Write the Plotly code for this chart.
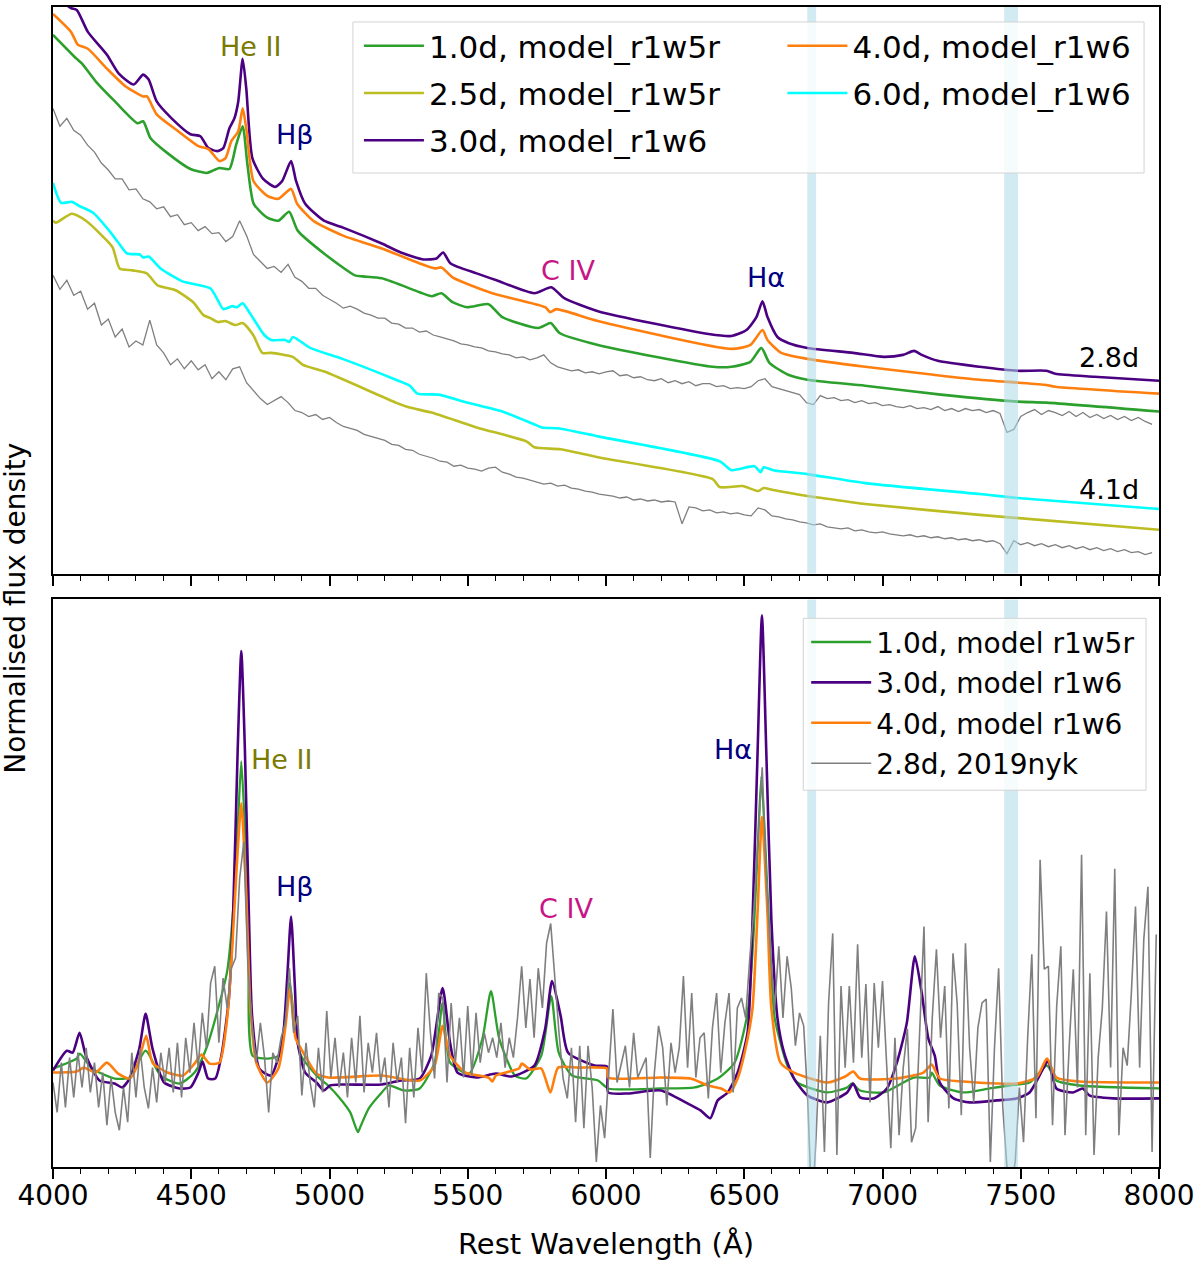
import numpy as np
import plotly.graph_objects as go

# ---------------- top panel: models (wavelength in A, normalised flux) -------------
top_r1w6_3d_wave = [4000, 4025, 4065, 4086, 4126, 4195, 4238, 4292, 4326, 4346, 4375, 4429, 4497, 4533, 4562,
                    4595, 4616, 4638, 4656, 4670, 4686, 4699, 4721, 4760, 4804, 4829, 4861, 4879, 4912, 4980,
                    5049, 5189, 5258, 5341, 5387, 5411, 5438, 5532, 5604, 5741, 5802, 5849, 5971, 6371, 6454,
                    6508, 6544, 6566, 6584, 6620, 6659, 6728, 6894, 7005, 7074, 7114, 7142, 7200, 7351, 7488,
                    7593, 7625, 7766, 8000]
top_r1w6_3d_flux = [6.10, 5.78, 5.69, 5.67, 5.45, 5.22, 5.03, 4.92, 5.02, 4.97, 4.75, 4.58, 4.42, 4.40, 4.28,
                    4.25, 4.28, 4.48, 4.58, 4.75, 5.18, 4.88, 4.18, 3.97, 3.89, 3.95, 4.15, 3.95, 3.72, 3.55,
                    3.48, 3.32, 3.23, 3.16, 3.17, 3.23, 3.12, 3.02, 2.95, 2.82, 2.88, 2.77, 2.64, 2.41, 2.39,
                    2.45, 2.58, 2.74, 2.58, 2.38, 2.32, 2.27, 2.22, 2.18, 2.20, 2.24, 2.20, 2.14, 2.08, 2.04,
                    2.04, 2.01, 1.98, 1.94]

top_r1w6_4d_wave = [4000, 4065, 4090, 4126, 4195, 4263, 4326, 4340, 4375, 4443, 4526, 4562, 4602, 4624, 4645,
                    4670, 4686, 4699, 4725, 4775, 4815, 4861, 4883, 4941, 5049, 5189, 5326, 5380, 5405, 5445,
                    5589, 5780, 5798, 5820, 5971, 6454, 6522, 6566, 6584, 6634, 6728, 6937, 7185, 7351, 7585,
                    7625, 8000]
top_r1w6_4d_flux = [5.63, 5.45, 5.32, 5.28, 5.08, 4.90, 4.80, 4.80, 4.62, 4.47, 4.30, 4.27, 4.15, 4.18, 4.35,
                    4.45, 4.68, 4.48, 3.95, 3.80, 3.77, 3.87, 3.72, 3.55, 3.40, 3.27, 3.12, 3.07, 3.08, 2.98,
                    2.82, 2.68, 2.63, 2.66, 2.54, 2.26, 2.30, 2.45, 2.35, 2.22, 2.16, 2.08, 2.00, 1.95, 1.90,
                    1.88, 1.81]

top_r1w5r_1d_wave = [4000, 4085, 4105, 4155, 4224, 4306, 4326, 4353, 4414, 4497, 4555, 4575, 4602, 4638, 4663,
                     4686, 4703, 4726, 4775, 4815, 4854, 4885, 4980, 5092, 5120, 5189, 5326, 5370, 5405, 5445,
                     5498, 5575, 5625, 5755, 5800, 5832, 5971, 6386, 6454, 6522, 6562, 6591, 6659, 6728, 6937,
                     7211, 7488, 7593, 8000]
top_r1w5r_1d_flux = [5.42, 5.18, 5.13, 4.95, 4.75, 4.53, 4.55, 4.38, 4.23, 4.07, 4.03, 4.05, 4.08, 4.07, 4.32,
                     4.50, 4.12, 3.72, 3.58, 3.55, 3.64, 3.45, 3.22, 3.00, 2.99, 2.97, 2.83, 2.79, 2.82, 2.73,
                     2.68, 2.71, 2.58, 2.47, 2.52, 2.42, 2.30, 2.08, 2.08, 2.13, 2.27, 2.12, 2.00, 1.95, 1.89,
                     1.80, 1.73, 1.72, 1.63]

top_r1w6_6d_wave = [4000, 4029, 4068, 4094, 4145, 4209, 4236, 4268, 4314, 4326, 4346, 4389, 4468, 4569, 4596,
                    4616, 4648, 4666, 4686, 4712, 4764, 4789, 4840, 4854, 4868, 4930, 5047, 5240, 5290, 5318,
                    5395, 5498, 5625, 5741, 5768, 5831, 5971, 6411, 6454, 6537, 6559, 6570, 6605, 6728, 6937,
                    7351, 7488, 8000]
top_r1w6_6d_flux = [3.93, 3.73, 3.74, 3.70, 3.63, 3.43, 3.33, 3.22, 3.21, 3.18, 3.19, 3.07, 2.94, 2.87, 2.75,
                    2.66, 2.69, 2.68, 2.72, 2.62, 2.40, 2.35, 2.35, 2.33, 2.38, 2.27, 2.16, 1.95, 1.89, 1.81,
                    1.80, 1.72, 1.63, 1.50, 1.47, 1.46, 1.38, 1.13, 1.04, 1.08, 1.02, 1.07, 1.04, 1.00, 0.91,
                    0.80, 0.76, 0.65]

top_r1w5r_25d_wave = [4000, 4011, 4068, 4119, 4184, 4216, 4241, 4288, 4339, 4378, 4443, 4507, 4544, 4569, 4596,
                      4623, 4659, 4686, 4724, 4757, 4789, 4867, 4904, 4984, 5240, 5290, 5369, 5532, 5712, 5741,
                      5836, 5971, 6386, 6411, 6494, 6551, 6570, 6605, 6728, 6883, 6937, 7351, 8000]
top_r1w5r_25d_flux = [3.55, 3.53, 3.62, 3.55, 3.38, 3.28, 3.07, 3.05, 3.02, 2.90, 2.85, 2.73, 2.60, 2.57, 2.53,
                      2.54, 2.50, 2.52, 2.40, 2.22, 2.22, 2.18, 2.10, 2.03, 1.72, 1.67, 1.62, 1.47, 1.33, 1.27,
                      1.25, 1.17, 0.95, 0.87, 0.88, 0.83, 0.86, 0.84, 0.78, 0.72, 0.70, 0.59, 0.44]

# ---------------- top panel: observed spectra, 25 A sampling -------------
top_obs_wave = np.arange(4000, 8000, 25)
top_obs_28d = [
    4.68, 4.50, 4.58, 4.46, 4.41, 4.31, 4.24, 4.13, 4.06, 3.97,
    3.97, 3.86, 3.87, 3.77, 3.74, 3.67, 3.69, 3.59, 3.61, 3.51,
    3.53, 3.45, 3.49, 3.42, 3.43, 3.34, 3.39, 3.55, 3.40, 3.21,
    3.14, 3.07, 3.09, 3.03, 3.11, 2.98, 2.94, 2.87, 2.87, 2.80,
    2.76, 2.72, 2.67, 2.69, 2.66, 2.62, 2.60, 2.57, 2.57, 2.52,
    2.51, 2.47, 2.47, 2.43, 2.44, 2.40, 2.38, 2.36, 2.34, 2.31,
    2.30, 2.28, 2.27, 2.24, 2.23, 2.21, 2.20, 2.17, 2.18, 2.15,
    2.17, 2.20, 2.12, 2.08, 2.06, 2.04, 2.05, 2.02, 2.03, 2.01,
    2.03, 2.04, 1.99, 2.00, 1.97, 1.98, 1.95, 1.94, 1.96, 1.92,
    1.94, 1.91, 1.93, 1.89, 1.91, 1.91, 1.88, 1.89, 1.86, 1.87,
    1.86, 1.88, 1.94, 1.96, 1.88, 1.86, 1.84, 1.82, 1.80, 1.72,
    1.70, 1.79, 1.76, 1.77, 1.74, 1.75, 1.72, 1.74, 1.71, 1.72,
    1.69, 1.70, 1.68, 1.67, 1.69, 1.66, 1.67, 1.65, 1.68, 1.64,
    1.66, 1.63, 1.66, 1.64, 1.65, 1.62, 1.64, 1.61, 1.42, 1.45,
    1.58, 1.62, 1.65, 1.60, 1.64, 1.62, 1.59, 1.63, 1.58, 1.62,
    1.57, 1.60, 1.56, 1.59, 1.55, 1.58, 1.54, 1.57, 1.53, 1.50,
]
top_obs_41d = [
    3.00, 2.86, 2.95, 2.80, 2.84, 2.66, 2.72, 2.50, 2.56, 2.38,
    2.46, 2.28, 2.34, 2.30, 2.55, 2.30, 2.22, 2.10, 2.16, 2.06,
    2.14, 2.05, 2.10, 1.96, 2.03, 1.95, 2.06, 2.08, 1.92, 1.84,
    1.76, 1.70, 1.74, 1.78, 1.72, 1.64, 1.62, 1.58, 1.60, 1.55,
    1.57, 1.52, 1.48, 1.46, 1.44, 1.40, 1.38, 1.36, 1.34, 1.30,
    1.29, 1.25, 1.24, 1.20, 1.18, 1.16, 1.13, 1.12, 1.08, 1.09,
    1.06, 1.05, 1.03, 1.06, 1.07, 1.02, 1.00, 0.97, 0.96, 0.94,
    0.92, 0.90, 0.91, 0.88, 0.89, 0.86, 0.85, 0.83, 0.82, 0.80,
    0.79, 0.78, 0.76, 0.77, 0.74, 0.75, 0.73, 0.74, 0.72, 0.73,
    0.72, 0.50, 0.67, 0.66, 0.63, 0.64, 0.61, 0.62, 0.60, 0.61,
    0.59, 0.58, 0.66, 0.64, 0.58, 0.57, 0.55, 0.54, 0.52, 0.51,
    0.49, 0.50, 0.47, 0.46, 0.45, 0.46, 0.43, 0.44, 0.42, 0.41,
    0.42, 0.40, 0.39, 0.38, 0.39, 0.37, 0.38, 0.36, 0.37, 0.35,
    0.36, 0.34, 0.35, 0.33, 0.34, 0.32, 0.33, 0.30, 0.20, 0.33,
    0.29, 0.31, 0.28, 0.30, 0.27, 0.29, 0.26, 0.28, 0.25, 0.27,
    0.24, 0.26, 0.23, 0.25, 0.22, 0.24, 0.21, 0.22, 0.19, 0.21,
]

# ---------------- bottom panel: continuum-subtracted -------------
bot_r1w5r_1d_wave = [4000, 4085, 4097, 4141, 4223, 4277, 4335, 4389, 4458, 4512, 4554, 4609, 4630, 4652, 4668,
                     4681, 4694, 4708, 4722, 4775, 4815, 4840, 4857, 4875, 4897, 4953, 4995, 5035, 5075, 5092,
                     5103, 5114, 5142, 5189, 5214, 5270, 5326, 5380, 5409, 5436, 5505, 5553, 5584, 5614, 5671,
                     5711, 5766, 5802, 5829, 5877, 5971, 6008, 6198, 6321, 6404, 6465, 6512, 6535, 6550, 6562,
                     6575, 6590, 6610, 6656, 6692, 6800, 6872, 6890, 6919, 7004, 7112, 7171, 7178, 7207, 7293,
                     7387, 7459, 7532, 7595, 7629, 7712, 8000]
bot_r1w5r_1d_flux = [0.99, 1.09, 1.14, 0.99, 0.89, 0.90, 1.17, 0.92, 0.84, 0.95, 1.19, 1.72, 1.97, 2.60, 3.40,
                     4.08, 3.40, 2.40, 1.12, 1.09, 1.12, 1.50, 1.85, 1.40, 1.12, 0.92, 0.82, 0.70, 0.55, 0.42,
                     0.35, 0.42, 0.59, 0.75, 0.82, 0.77, 0.79, 1.05, 1.65, 1.05, 0.94, 1.29, 1.77, 1.29, 0.92,
                     0.89, 1.12, 1.72, 1.15, 0.92, 0.87, 0.79, 0.79, 0.80, 0.89, 1.05, 1.55, 2.40, 3.30, 3.93,
                     3.30, 2.40, 1.50, 1.02, 0.85, 0.75, 0.80, 0.84, 0.77, 0.75, 0.90, 0.90, 0.95, 0.82, 0.75,
                     0.79, 0.82, 0.85, 1.02, 0.87, 0.82, 0.79]

bot_r1w6_3d_wave = [4000, 4050, 4071, 4096, 4119, 4168, 4223, 4250, 4277, 4312, 4335, 4360, 4402, 4458, 4497,
                    4526, 4541, 4561, 4587, 4609, 4636, 4652, 4668, 4681, 4694, 4708, 4720, 4746, 4788, 4829,
                    4847, 4861, 4875, 4885, 4912, 4953, 4980, 5002, 5049, 5189, 5258, 5326, 5368, 5409, 5436,
                    5463, 5532, 5602, 5658, 5741, 5780, 5805, 5836, 5863, 5959, 6004, 6008, 6079, 6198, 6295,
                    6342, 6377, 6404, 6440, 6476, 6512, 6530, 6548, 6564, 6580, 6598, 6620, 6644, 6680, 6728,
                    6800, 6872, 6894, 6919, 6968, 7016, 7052, 7088, 7117, 7142, 7166, 7189, 7207, 7257, 7315,
                    7413, 7485, 7532, 7581, 7599, 7629, 7689, 7724, 7748, 7833, 8000]
bot_r1w6_3d_flux = [0.97, 1.17, 1.15, 1.35, 1.12, 0.87, 0.84, 0.80, 0.89, 1.19, 1.54, 1.19, 0.85, 0.79, 0.80,
                    0.95, 1.06, 0.89, 0.89, 1.12, 1.69, 2.60, 4.20, 5.19, 4.20, 2.60, 1.52, 0.99, 0.92, 1.25,
                    1.90, 2.52, 1.80, 1.25, 0.95, 0.85, 0.77, 0.82, 0.83, 0.83, 0.87, 0.89, 1.12, 1.80, 1.25,
                    0.95, 0.90, 0.94, 0.91, 1.02, 1.39, 1.87, 1.52, 1.15, 1.02, 1.01, 0.75, 0.74, 0.77, 0.64,
                    0.57, 0.49, 0.67, 0.75, 0.95, 1.35, 2.49, 4.15, 5.55, 4.15, 2.49, 1.50, 1.15, 0.89, 0.72,
                    0.65, 0.75, 0.84, 0.70, 0.69, 0.79, 1.05, 1.45, 2.12, 1.75, 1.29, 1.12, 0.85, 0.69, 0.65,
                    0.67, 0.69, 0.75, 0.99, 1.07, 0.79, 0.75, 0.79, 0.72, 0.69, 0.69]

bot_r1w6_4d_wave = [4000, 4085, 4112, 4154, 4195, 4236, 4277, 4305, 4337, 4360, 4414, 4470, 4512, 4537, 4566,
                    4602, 4630, 4648, 4664, 4681, 4698, 4714, 4735, 4775, 4815, 4840, 4857, 4877, 4897, 4953,
                    4995, 5189, 5326, 5380, 5409, 5436, 5492, 5575, 5589, 5602, 5685, 5696, 5726, 5766, 5799,
                    5827, 5899, 6004, 6008, 6198, 6306, 6368, 6416, 6447, 6476, 6512, 6530, 6548, 6564, 6584,
                    6598, 6631, 6680, 6800, 6865, 6894, 6919, 7052, 7148, 7178, 7207, 7293, 7413, 7485, 7557,
                    7595, 7629, 7712, 8000]
bot_r1w6_4d_flux = [0.95, 0.96, 1.00, 0.95, 1.05, 0.94, 0.89, 1.02, 1.32, 1.05, 0.95, 0.92, 1.04, 1.13, 1.04,
                    1.05, 1.50, 2.20, 3.00, 3.66, 2.80, 1.60, 1.05, 0.85, 0.99, 1.40, 1.79, 1.30, 1.19, 0.94,
                    0.90, 0.92, 0.87, 1.02, 1.42, 1.12, 0.95, 0.90, 0.86, 0.92, 0.99, 1.04, 0.98, 0.99, 0.75,
                    1.00, 1.00, 0.99, 0.90, 0.90, 0.89, 0.82, 0.79, 0.75, 0.89, 1.29, 1.60, 2.55, 3.52, 2.55,
                    1.60, 1.05, 0.95, 0.85, 0.91, 0.96, 0.89, 0.89, 0.95, 1.03, 0.89, 0.86, 0.84, 0.84, 0.90,
                    1.09, 0.90, 0.86, 0.85]

# 2019nyk at 2.8d, 15 A sampling
bot_obs_wave = np.arange(4000, 8000, 15)
bot_obs_28d = [
    0.85, 0.55, 1.05, 0.60, 1.10, 0.70, 1.15, 0.80, 1.20, 0.75,
    1.05, 0.60, 0.95, 0.42, 0.90, 0.55, 0.37, 0.80, 0.45, 1.15,
    0.70, 1.19, 0.80, 0.59, 1.00, 0.65, 1.15, 0.85, 1.20, 0.75,
    1.25, 0.70, 1.30, 0.95, 1.45, 1.00, 1.55, 1.20, 1.85, 2.02,
    1.25, 1.90, 1.60, 2.00, 2.10, 2.90, 3.27, 2.00, 1.40, 1.05,
    1.45, 1.10, 0.55, 1.15, 1.05, 1.30, 1.45, 2.00, 1.35, 1.52,
    0.72, 1.25, 0.85, 0.60, 1.20, 0.75, 1.57, 0.90, 1.30, 0.80,
    1.15, 0.70, 1.30, 0.85, 1.52, 0.75, 1.25, 0.95, 1.35, 0.85,
    1.10, 0.60, 1.25, 0.85, 1.10, 0.44, 1.20, 0.70, 1.40, 0.95,
    1.95, 1.35, 0.89, 1.75, 1.70, 0.85, 1.65, 1.05, 1.50, 0.90,
    1.62, 0.92, 1.55, 1.05, 1.35, 1.15, 1.30, 1.10, 1.45, 1.00,
    1.30, 1.10, 1.50, 2.02, 1.40, 1.89, 1.30, 2.00, 1.60, 2.25,
    2.45, 1.85, 1.35, 0.89, 0.69, 1.20, 0.45, 1.22, 0.39, 1.22,
    0.80, 0.05, 0.62, 0.29, 1.00, 1.59, 0.85, 1.05, 1.22, 0.80,
    1.35, 0.90, 1.00, 1.10, 0.09, 0.95, 1.42, 1.20, 0.62, 1.25,
    0.95, 1.20, 1.92, 1.00, 1.75, 0.90, 1.30, 1.35, 0.69, 1.40,
    1.75, 0.95, 1.45, 1.75, 0.75, 1.60, 1.70, 1.50, 2.10, 2.60,
    3.30, 4.02, 2.90, 2.15, 1.60, 2.22, 1.50, 2.12, 1.80, 1.22,
    1.55, 1.42, 0.65, -0.50, 0.32, 1.32, 0.15, 1.65, 2.35, 0.12,
    1.82, 1.00, 1.82, 1.05, 2.24, 1.10, 1.84, 0.65, 1.85, 1.20,
    1.87, 1.00, 0.19, 1.30, 0.32, 1.00, 1.39, 0.25, 0.39, 1.40,
    2.42, 0.45, 1.50, 2.19, 1.30, 1.82, 0.59, 2.15, 1.65, 0.52,
    2.25, 1.20, 0.65, 1.40, 1.65, 1.69, 0.05, 1.20, 2.00, 0.60,
    0.00, -0.20, 0.05, 0.80, 0.25, 1.30, 2.14, 0.49, 3.09, 1.99,
    2.02, 0.42, 1.62, 2.22, 0.32, 1.20, 1.99, 0.80, 3.14, 0.32,
    1.95, 0.12, 1.10, 1.60, 2.57, 1.00, 3.00, 0.32, 1.20, 1.02,
    1.75, 2.62, 1.00, 2.29, 2.82, 0.15, 2.34,
]

# telluric bands (A)
bands = [(6728, 6760), (7440, 7490)]

GREEN = "#2ca02c"
OLIVE = "#bcbd22"
INDIGO = "#4b0082"
ORANGE = "#ff7f0e"
CYAN = "#00ffff"
GREY = "#7f7f7f"
FONT = "DejaVu Sans"

fig = go.Figure()

# top panel
for w, f in [(top_obs_wave, top_obs_28d), (top_obs_wave, top_obs_41d)]:
    fig.add_trace(go.Scatter(x=w, y=f, mode="lines", line=dict(color=GREY, width=1.3),
                             showlegend=False, xaxis="x2", yaxis="y2", hoverinfo="skip"))

# two legend columns in the top panel, like matplotlib ncol=2
top_models = [
    (top_r1w5r_1d_wave, top_r1w5r_1d_flux, GREEN, "1.0d, model_r1w5r", "legend"),
    (top_r1w5r_25d_wave, top_r1w5r_25d_flux, OLIVE, "2.5d, model_r1w5r", "legend"),
    (top_r1w6_3d_wave, top_r1w6_3d_flux, INDIGO, "3.0d, model_r1w6", "legend"),
    (top_r1w6_4d_wave, top_r1w6_4d_flux, ORANGE, "4.0d, model_r1w6", "legend3"),
    (top_r1w6_6d_wave, top_r1w6_6d_flux, CYAN, "6.0d, model_r1w6", "legend3"),
]
for i, (w, f, c, name, leg) in enumerate(top_models):
    fig.add_trace(go.Scatter(x=w, y=f, mode="lines", name=name,
                             line=dict(color=c, width=2.6, shape="spline", smoothing=0.6),
                             xaxis="x2", yaxis="y2", legend=leg, legendgroup="top%d" % i))

# bottom panel
bot_series = [
    (bot_r1w5r_1d_wave, bot_r1w5r_1d_flux, GREEN, "1.0d, model r1w5r", 2.3, "spline"),
    (bot_r1w6_3d_wave, bot_r1w6_3d_flux, INDIGO, "3.0d, model r1w6", 2.6, "spline"),
    (bot_r1w6_4d_wave, bot_r1w6_4d_flux, ORANGE, "4.0d, model r1w6", 2.6, "spline"),
    (bot_obs_wave, bot_obs_28d, GREY, "2.8d, 2019nyk", 1.6, "linear"),
]
for i, (w, f, c, name, lw, shp) in enumerate(bot_series):
    line = dict(color=c, width=lw, shape=shp)
    if shp == "spline":
        line["smoothing"] = 0.6
    fig.add_trace(go.Scatter(x=w, y=f, mode="lines", name=name, line=line,
                             xaxis="x", yaxis="y", legend="legend2", legendgroup="bot%d" % i))

# telluric bands over both panels
for x0, x1 in bands:
    for xr, yr in [("x", "y domain"), ("x2", "y2 domain")]:
        fig.add_shape(type="rect", xref=xr, yref=yr, x0=x0, x1=x1, y0=0, y1=1,
                      fillcolor="rgba(173,216,230,0.55)", line_width=0, layer="above")

# legend frames (semi-transparent white, light grey edge)
for x0, x1, y0, y1 in [(0.2712, 0.9865, 0.8569, 0.9871), (0.6784, 0.9883, 0.3248, 0.4730)]:
    fig.add_shape(type="rect", xref="paper", yref="paper", x0=x0, x1=x1, y0=y0, y1=y1,
                  fillcolor="rgba(255,255,255,0.8)", line=dict(color="#d3d3d3", width=1), layer="above")

# line labels
labels_top = [
    ("He II", 4713, 5.30, "#7a7a00"),
    ("Hβ", 4876, 4.42, "#000080"),
    ("C IV", 5863, 3.05, "#c71585"),
    ("Hα", 6577, 2.98, "#000080"),
    ("2.8d", 7820, 2.17, "black"),
    ("4.1d", 7820, 0.85, "black"),
]
labels_bot = [
    ("He II", 4825, 4.10, "#7a7a00"),
    ("Hβ", 4876, 2.82, "#000080"),
    ("C IV", 5856, 2.60, "#c71585"),
    ("Hα", 6458, 4.20, "#000080"),
]
for txt, x, y, c in labels_top:
    fig.add_annotation(x=x, y=y, xref="x2", yref="y2", text=txt, showarrow=False,
                       font=dict(size=27, color=c, family=FONT))
for txt, x, y, c in labels_bot:
    fig.add_annotation(x=x, y=y, xref="x", yref="y", text=txt, showarrow=False,
                       font=dict(size=27, color=c, family=FONT))

fig.add_annotation(x=-0.034, y=0.4816, xref="paper", yref="paper", text="Normalised flux density",
                   xanchor="center", yanchor="middle",
                   textangle=-90, showarrow=False, font=dict(size=28, color="black", family=FONT))

xaxis_common = dict(
    range=[4000, 8000], showline=True, linewidth=2, linecolor="black", mirror=True,
    ticks="outside", tick0=4000, dtick=500, ticklen=10, tickwidth=1.5, tickcolor="black",
    minor=dict(dtick=100, ticks="outside", ticklen=5, tickwidth=1.2, tickcolor="black"),
    showgrid=False, zeroline=False,
)
yaxis_common = dict(showline=True, linewidth=2, linecolor="black", mirror=True, ticks="",
                    showticklabels=False, showgrid=False, zeroline=False)

legend_common = dict(orientation="v", xanchor="left", yanchor="top", bgcolor="rgba(0,0,0,0)",
                     borderwidth=0)

fig.update_layout(
    width=1200,
    height=1261,
    autosize=False,
    margin=dict(l=53, r=37, t=5, b=89),
    paper_bgcolor="white",
    plot_bgcolor="white",
    font=dict(family=FONT, size=28, color="black"),
    xaxis=dict(**xaxis_common, anchor="y", tickfont=dict(size=28), ticklabelstandoff=-8,
               title=dict(text="Rest Wavelength (Å)", font=dict(size=29), standoff=24)),
    yaxis=dict(**yaxis_common, domain=[0, 0.4893], range=[0, 5.71]),
    xaxis2=dict(**xaxis_common, anchor="y2", matches="x", showticklabels=False),
    yaxis2=dict(**yaxis_common, domain=[0.5116, 1], range=[0, 5.70]),
    legend=dict(**legend_common, x=0.2766, y=0.9896, itemwidth=60, font=dict(size=31),
                tracegroupgap=4),
    legend3=dict(**legend_common, x=0.6595, y=0.9896, itemwidth=60, font=dict(size=31),
                 tracegroupgap=4),
    legend2=dict(**legend_common, x=0.681, y=0.4739, itemwidth=60, font=dict(size=28),
                 tracegroupgap=1),
)

fig.write_html("out.html", config={"displayModeBar": False},
               post_script="document.body.style.margin='0';")
